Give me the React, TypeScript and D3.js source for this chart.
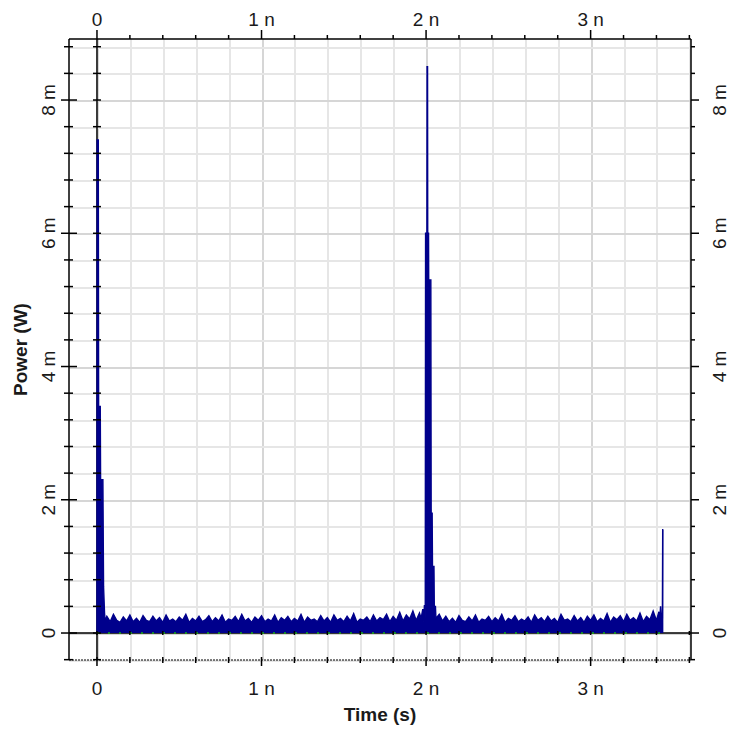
import React from 'react';
import * as d3 from 'd3';

const WIDTH = 731;
const HEIGHT = 734;

// Axis labelling
const xMajorTicks = [0, 1, 2, 3];
const xTickLabels = ['0', '1 n', '2 n', '3 n'];
const yMajorTicks = [0, 2, 4, 6, 8];
const yTickLabels = ['0', '2 m', '4 m', '6 m', '8 m'];
const xAxisTitle = 'Time (s)';
const yAxisTitle = 'Power (W)';

// Blue trace: time in ns, power in mW
const firstPulse: [number, number][] = [
  [0.0, 0.0], [0.001, 7.4], [0.008, 7.4], [0.01, 3.4], [0.02, 3.4], [0.022, 2.3],
  [0.036, 2.3], [0.04, 0.7], [0.046, 0.3], [0.05, 0.18],
];

const noiseStepNs = 0.02;
const noiseAStartNs = 0.06;
const noiseA = [
  0.25, 0.17, 0.28, 0.19, 0.16, 0.24, 0.18, 0.27, 0.17, 0.22, 0.16, 0.26, 0.19, 0.17, 0.25, 0.18, 0.23, 0.16, 0.27, 0.18,
  0.21, 0.17, 0.24, 0.19, 0.28, 0.16, 0.22, 0.18, 0.25, 0.17, 0.20, 0.26, 0.17, 0.23, 0.18, 0.27, 0.16, 0.21, 0.19, 0.25,
  0.17, 0.28, 0.18, 0.22, 0.16, 0.24, 0.19, 0.26, 0.17, 0.21, 0.18, 0.27, 0.16, 0.23, 0.19, 0.25, 0.17, 0.22, 0.18, 0.28,
  0.16, 0.24, 0.19, 0.21, 0.17, 0.26, 0.18, 0.23, 0.16, 0.27, 0.19, 0.22, 0.17, 0.25, 0.18, 0.29, 0.16, 0.21, 0.19, 0.24,
  0.17, 0.27, 0.18, 0.23, 0.20, 0.28, 0.17, 0.25, 0.19, 0.31, 0.18, 0.27, 0.21, 0.33, 0.19, 0.30,
];

const secondPulse: [number, number][] = [
  [1.97, 0.22], [1.98, 0.36], [1.985, 0.17], [1.99, 0.42], [1.995, 0.22],
  [1.997, 6.0], [2.005, 6.0], [2.006, 8.5], [2.009, 8.5], [2.01, 6.0], [2.015, 6.0],
  [2.016, 5.3], [2.029, 5.3], [2.031, 1.8], [2.037, 1.8], [2.039, 1.0],
  [2.048, 1.0], [2.05, 0.4], [2.057, 0.4], [2.06, 0.22],
];

const noiseBStartNs = 2.08;
const noiseB = [
  0.28, 0.18, 0.25, 0.17, 0.22, 0.16, 0.26, 0.19, 0.17, 0.24, 0.18, 0.27, 0.16, 0.21, 0.19, 0.25, 0.17, 0.23, 0.18, 0.28,
  0.16, 0.22, 0.19, 0.26, 0.17, 0.21, 0.18, 0.24, 0.16, 0.27, 0.19, 0.23, 0.17, 0.25, 0.18, 0.22, 0.16, 0.28, 0.19, 0.21,
  0.17, 0.26, 0.18, 0.23, 0.16, 0.25, 0.19, 0.27, 0.17, 0.22, 0.18, 0.29, 0.16, 0.24, 0.20, 0.26, 0.17, 0.28, 0.19, 0.23,
  0.18, 0.30, 0.17, 0.25, 0.20, 0.33, 0.19,
];

const tailSamples: [number, number][] = [
  [3.415, 0.32], [3.42, 0.18], [3.425, 0.4], [3.43, 0.2], [3.436, 0.22], [3.438, 1.55], [3.442, 1.55],
];

// Green trace sits on the zero line
const greenTrace: [number, number][] = [[0, 0], [3.44, 0]];

const NAVY = '#00008c';
const GREEN = '#16b316';
const FONT = '"Liberation Sans", Arial, sans-serif';
const TEXT = '#1a1a1a';

export default function App() {
  const left = 69;
  const right = 691;
  const top = 39;
  const bottom = 660;

  const x = d3.scaleLinear().domain([-0.17, 3.61]).range([left, right]);
  const y = d3.scaleLinear().domain([-0.405, 8.916]).range([bottom, top]);

  const noiseToPoints = (start: number, vals: number[]): [number, number][] =>
    vals.map((v, i) => [start + i * noiseStepNs, v]);

  const blue: [number, number][] = [
    ...firstPulse,
    ...noiseToPoints(noiseAStartNs, noiseA),
    ...secondPulse,
    ...noiseToPoints(noiseBStartNs, noiseB),
    ...tailSamples,
  ];

  const area = d3
    .area<[number, number]>()
    .x((d) => x(d[0]))
    .y0(y(0))
    .y1((d) => y(d[1]));
  const line = d3
    .line<[number, number]>()
    .x((d) => x(d[0]))
    .y((d) => y(d[1]));

  const xMinor = d3.range(0, 19).map((i) => +(i * 0.2).toFixed(2));
  const yMinor = d3.range(-1, 23).map((i) => +(i * 0.4).toFixed(2));
  const isMajorX = (v: number) => Math.abs(v - Math.round(v)) < 1e-6;
  const isMajorY = (v: number) => Math.abs(v / 2 - Math.round(v / 2)) < 1e-6;

  const x0 = x(0);
  const y0 = y(0);

  return (
    <svg
      width={WIDTH}
      height={HEIGHT}
      style={{ position: 'absolute', left: 0, top: 0, background: '#fff' }}
    >
      {/* grid */}
      <g shapeRendering="crispEdges">
        {xMinor.map((t) => (
          <line
            key={'gx' + t}
            x1={Math.round(x(t)) + 0.5}
            x2={Math.round(x(t)) + 0.5}
            y1={top}
            y2={bottom}
            stroke={isMajorX(t) ? '#d6d6d6' : '#e6e6e6'}
            strokeWidth={2}
          />
        ))}
        {yMinor.map((v) => (
          <line
            key={'gy' + v}
            x1={left}
            x2={right}
            y1={Math.round(y(v)) + 0.5}
            y2={Math.round(y(v)) + 0.5}
            stroke={isMajorY(v) ? '#d6d6d6' : '#e6e6e6'}
            strokeWidth={2}
          />
        ))}
      </g>

      {/* zero lines */}
      <g stroke="#000" strokeWidth={1.5}>
        <line x1={left} x2={right} y1={y0} y2={y0} />
        <line x1={x0} x2={x0} y1={top} y2={bottom} />
      </g>

      {/* traces */}
      <path d={area(blue) ?? ''} fill={NAVY} />
      <path d={line(blue) ?? ''} fill="none" stroke={NAVY} strokeWidth={1.4} />
      <path
        d={line(greenTrace) ?? ''}
        fill="none"
        stroke={GREEN}
        strokeWidth={1.5}
        strokeDasharray="2 9"
      />

      {/* frame */}
      <g stroke="#000" strokeWidth={1.5} fill="none">
        <line x1={left} x2={left} y1={top} y2={bottom} />
        <line x1={left} x2={right} y1={top} y2={top} />
        <line x1={right} x2={right} y1={top} y2={bottom} />
        <line x1={left} x2={right} y1={bottom} y2={bottom} strokeDasharray="2 1" strokeWidth={1.2} />
      </g>

      {/* ticks */}
      <g stroke="#000" strokeWidth={1.5}>
        {yMinor.map((v) => {
          const yy = y(v);
          const major = isMajorY(v);
          return (
            <g key={'ty' + v}>
              <line x1={left - (major ? 8 : 5)} x2={left + (major ? 8 : 4)} y1={yy} y2={yy} />
              <line x1={x0 - 4} x2={x0 + 4} y1={yy} y2={yy} />
              <line x1={right} x2={right + (major ? 8 : 4)} y1={yy} y2={yy} />
            </g>
          );
        })}
        {xMinor.map((t) => {
          const xx = x(t);
          const major = isMajorX(t);
          return (
            <g key={'tx' + t}>
              <line x1={xx} x2={xx} y1={top - (major ? 9 : 4)} y2={top} />
              <line x1={xx} x2={xx} y1={bottom - 3} y2={bottom + (major ? 6 : 3)} />
              <line x1={xx} x2={xx} y1={y0 - 2} y2={y0 + 2} />
            </g>
          );
        })}
      </g>

      {/* tick labels */}
      <g fontFamily={FONT} fontSize={19} fill={TEXT} textAnchor="middle">
        {xMajorTicks.map((t, i) => (
          <text key={'lt' + t} x={x(t)} y={26}>
            {xTickLabels[i]}
          </text>
        ))}
        {xMajorTicks.map((t, i) => (
          <text key={'lb' + t} x={x(t)} y={695}>
            {xTickLabels[i]}
          </text>
        ))}
        {yMajorTicks.map((v, i) => (
          <text key={'ll' + v} transform={`translate(55,${y(v)}) rotate(-90)`}>
            {yTickLabels[i]}
          </text>
        ))}
        {yMajorTicks.map((v, i) => (
          <text key={'lr' + v} transform={`translate(726,${y(v)}) rotate(-90)`}>
            {yTickLabels[i]}
          </text>
        ))}
      </g>

      {/* axis titles */}
      <g fontFamily={FONT} fontSize={19} fontWeight="bold" fill={TEXT} textAnchor="middle">
        <text x={(left + right) / 2} y={721}>
          {xAxisTitle}
        </text>
        <text transform={`translate(27,${(top + bottom) / 2}) rotate(-90)`}>{yAxisTitle}</text>
      </g>
    </svg>
  );
}
